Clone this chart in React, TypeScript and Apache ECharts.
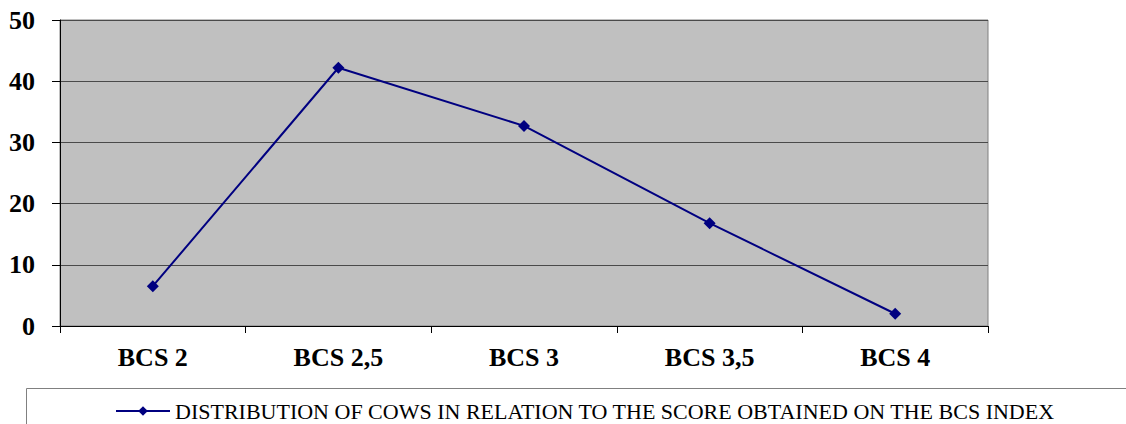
import React, { useEffect, useRef } from "react";
import * as echarts from "echarts";

const categories = ["BCS 2", "BCS 2,5", "BCS 3", "BCS 3,5", "BCS 4"];
const values = [6.5, 42.2, 32.7, 16.8, 2];
const seriesName = "DISTRIBUTION OF COWS IN RELATION TO THE SCORE OBTAINED ON THE BCS INDEX";
const FONT = "Liberation Serif";

export default function App() {
  const ref = useRef<HTMLDivElement>(null);
  useEffect(() => {
    const chart = echarts.init(ref.current!, null, { renderer: "svg" });
    chart.setOption({
      animation: false,
      backgroundColor: "#ffffff",
      textStyle: { fontFamily: FONT },
      grid: {
        left: 60,
        top: 20,
        right: 138,
        height: 306,
        show: true,
        backgroundColor: "#c0c0c0",
        borderColor: "#808080",
        borderWidth: 1,
      },
      xAxis: {
        type: "category",
        data: categories,
        boundaryGap: true,
        axisLine: { lineStyle: { color: "#000000", width: 1 } },
        axisTick: { show: true, length: 7, lineStyle: { color: "#000000" } },
        axisLabel: {
          margin: 18,
          fontSize: 26,
          fontWeight: "bold",
          color: "#000000",
          fontFamily: FONT,
        },
      },
      yAxis: {
        type: "value",
        min: 0,
        max: 50,
        interval: 10,
        axisLine: { show: true, lineStyle: { color: "#000000", width: 1 } },
        axisTick: { show: true, length: 8, lineStyle: { color: "#000000" } },
        splitLine: { show: true, lineStyle: { color: "#4a4a4a", width: 1 } },
        axisLabel: {
          margin: 25,
          fontSize: 26,
          fontWeight: "bold",
          color: "#000000",
          fontFamily: FONT,
        },
      },
      legend: {
        left: 110,
        top: 395,
        itemWidth: 54,
        itemHeight: 12,
        itemGap: 6,
        textStyle: {
          fontSize: 22,
          color: "#000000",
          fontFamily: FONT,
        },
        data: [seriesName],
      },
      graphic: [
        {
          type: "rect",
          shape: { x: 26.5, y: 388.5, width: 1200, height: 100 },
          style: { fill: "none", stroke: "#808080", lineWidth: 1 },
          silent: true,
          z: -1,
        },
      ],
      series: [
        {
          name: seriesName,
          type: "line",
          data: values,
          symbol: "diamond",
          symbolSize: 12,
          lineStyle: { color: "#000080", width: 2 },
          itemStyle: { color: "#000080" },
        },
      ],
    });
    return () => chart.dispose();
  }, []);
  return (
    <div
      ref={ref}
      style={{ position: "fixed", left: 0, top: 0, width: 1126, height: 424 }}
    />
  );
}
